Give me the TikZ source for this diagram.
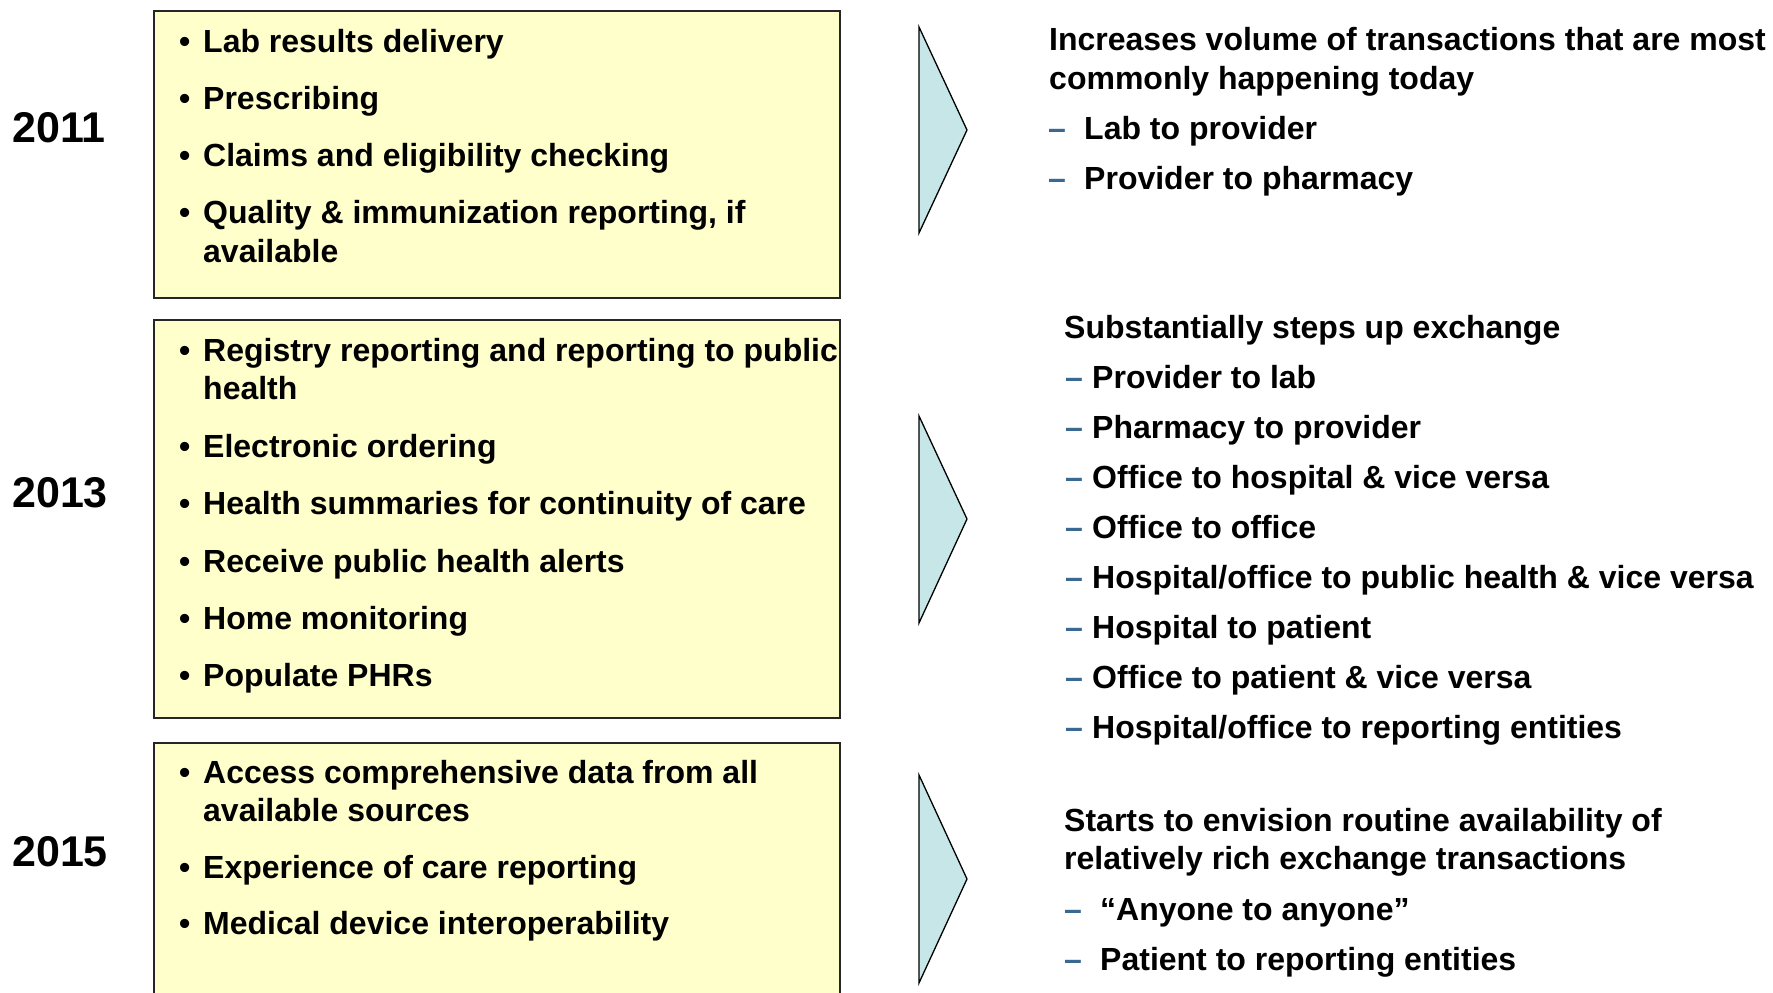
\documentclass[tikz,border=0pt]{standalone}
\usepackage{fontspec}
\setmainfont{Liberation Sans}
\definecolor{boxfill}{HTML}{FFFFCC}
\definecolor{trifill}{HTML}{C6E6E8}
\definecolor{dashblue}{HTML}{3A6890}
\begin{document}
\begin{tikzpicture}[x=1pt,y=-1pt,
  item/.style={anchor=base west, inner sep=0pt, font=\fontsize{32}{38}\selectfont\bfseries},
  bul/.style={anchor=base west, inner sep=0pt, font=\fontsize{32}{38}\selectfont\bfseries},
  year/.style={anchor=base west, inner sep=0pt, font=\fontsize{43}{50}\selectfont\bfseries},
  dashmark/.style={anchor=base west, inner sep=0pt, text=dashblue, font=\fontsize{32}{38}\selectfont\bfseries},
  panel/.style={draw=black!85, line width=1.8pt, fill=boxfill},
  chevron/.style={draw=black, line width=1.3pt, fill=trifill, line join=miter}]
\path[use as bounding box] (0,0) rectangle (1773,993);
\clip (0,0) rectangle (1773,993);
\fill[white] (0,0) rectangle (1773,993);

% panels
\path[panel] (154,11) rectangle (840,298);
\path[panel] (154,320) rectangle (840,718);
\path[panel] (154,743) rectangle (840,1010);

% chevrons
\path[chevron] (919,27) -- (967,130) -- (919,233) -- cycle;
\path[chevron] (919,416) -- (967,519) -- (919,623) -- cycle;
\path[chevron] (919,775) -- (967,879) -- (919,983) -- cycle;

% years
\node[year] (y1) at (12,142) {2011};
\node[year] (y2) at (12,507) {2013};
\node[year] (y3) at (12,866) {2015};

% box 1
\node[bul] (b1a) at (179,52) {•};
\node[item] (t1a) at (203,52) {Lab results delivery};
\node[bul] (b1b) at (179,109) {•};
\node[item] (t1b) at (203,109) {Prescribing};
\node[bul] (b1c) at (179,166) {•};
\node[item] (t1c) at (203,166) {Claims and eligibility checking};
\node[bul] (b1d) at (179,223) {•};
\node[item] (t1d) at (203,223) {Quality \& immunization reporting, if};
\node[item] (t1e) at (203,262) {available};

% box 2
\node[bul] (b2a) at (179,361) {•};
\node[item] (t2a) at (203,361) {Registry reporting and reporting to public};
\node[item] (t2b) at (203,399) {health};
\node[bul] (b2c) at (179,457) {•};
\node[item] (t2c) at (203,457) {Electronic ordering};
\node[bul] (b2d) at (179,514) {•};
\node[item] (t2d) at (203,514) {Health summaries for continuity of care};
\node[bul] (b2e) at (179,572) {•};
\node[item] (t2e) at (203,572) {Receive public health alerts};
\node[bul] (b2f) at (179,629) {•};
\node[item] (t2f) at (203,629) {Home monitoring};
\node[bul] (b2g) at (179,686) {•};
\node[item] (t2g) at (203,686) {Populate PHRs};

% box 3
\node[bul] (b3a) at (179,783) {•};
\node[item] (t3a) at (203,783) {Access comprehensive data from all};
\node[item] (t3b) at (203,821) {available sources};
\node[bul] (b3c) at (179,878) {•};
\node[item] (t3c) at (203,878) {Experience of care reporting};
\node[bul] (b3d) at (179,934) {•};
\node[item] (t3d) at (203,934) {Medical device interoperability};

% right block 1
\node[item] (h1a) at (1049,50) {Increases volume of transactions that are most};
\node[item] (h1b) at (1049,89) {commonly happening today};
\node[dashmark] (d1a) at (1048,139) {–};
\node[item] (r1a) at (1084,139) {Lab to provider};
\node[dashmark] (d1b) at (1048,189) {–};
\node[item] (r1b) at (1084,189) {Provider to pharmacy};

% right block 2
\node[item] (h2) at (1064,338) {Substantially steps up exchange};
\node[dashmark] (d2a) at (1065,388) {–};
\node[item] (r2a) at (1092,388) {Provider to lab};
\node[dashmark] (d2b) at (1065,438) {–};
\node[item] (r2b) at (1092,438) {Pharmacy to provider};
\node[dashmark] (d2c) at (1065,488) {–};
\node[item] (r2c) at (1092,488) {Office to hospital \& vice versa};
\node[dashmark] (d2d) at (1065,538) {–};
\node[item] (r2d) at (1092,538) {Office to office};
\node[dashmark] (d2e) at (1065,588) {–};
\node[item] (r2e) at (1092,588) {Hospital/office to public health \& vice versa};
\node[dashmark] (d2f) at (1065,638) {–};
\node[item] (r2f) at (1092,638) {Hospital to patient};
\node[dashmark] (d2g) at (1065,688) {–};
\node[item] (r2g) at (1092,688) {Office to patient \& vice versa};
\node[dashmark] (d2h) at (1065,738) {–};
\node[item] (r2h) at (1092,738) {Hospital/office to reporting entities};

% right block 3
\node[item] (h3a) at (1064,831) {Starts to envision routine availability of};
\node[item] (h3b) at (1064,869) {relatively rich exchange transactions};
\node[dashmark] (d3a) at (1064,920) {–};
\node[item] (r3a) at (1100,920) {“Anyone to anyone”};
\node[dashmark] (d3b) at (1064,970) {–};
\node[item] (r3b) at (1100,970) {Patient to reporting entities};
\end{tikzpicture}
\end{document}
